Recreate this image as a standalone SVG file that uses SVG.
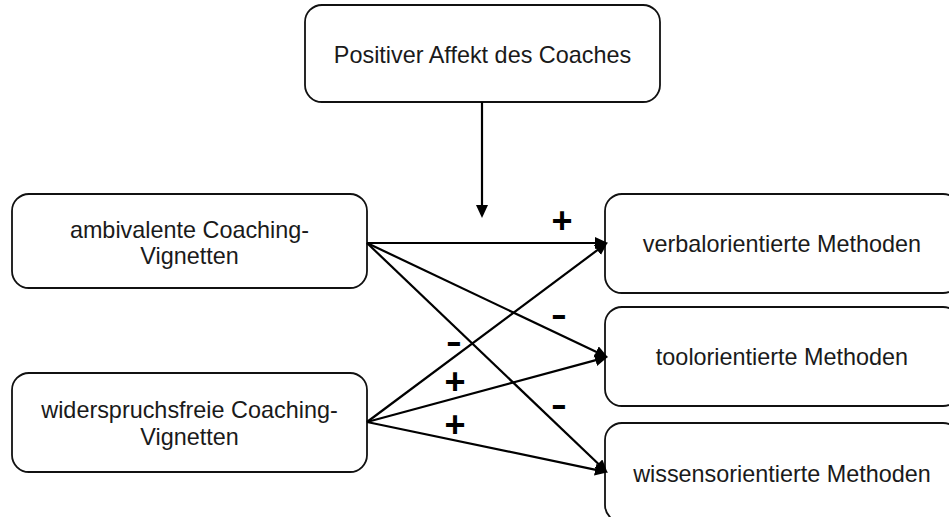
<svg xmlns="http://www.w3.org/2000/svg" width="949" height="517" viewBox="0 0 949 517">
  <defs>
    <style>
      .box { fill: #ffffff; stroke: #111111; stroke-width: 1.8; }
      .label { font-family: "Liberation Sans", Arial, sans-serif; font-size: 23.4px; fill: #1a1a1a; text-anchor: middle; }
      .edge { stroke: #000000; stroke-width: 2.2; fill: none; marker-end: url(#head); }
      .plus { font-family: "Liberation Sans", Arial, sans-serif; font-weight: bold; font-size: 36px; fill: #000000; text-anchor: middle; }
      .minus { font-family: "Liberation Sans", Arial, sans-serif; font-weight: bold; font-size: 34px; fill: #000000; text-anchor: middle; }
    </style>
    <!-- filled triangular head; line stops 4px short of the tip -->
    <marker id="head" markerUnits="userSpaceOnUse" markerWidth="13" markerHeight="13" refX="8" refY="6" orient="auto">
      <path d="M0,0 L13,6 L0,12 z" fill="#000000"/>
    </marker>
  </defs>

  <rect width="949" height="517" fill="#ffffff"/>

  <!-- moderator -->
  <g id="node-affekt">
    <rect class="box" x="305" y="5" width="355" height="97" rx="17" ry="17"/>
    <text class="label" x="482.5" y="63">Positiver Affekt des Coaches</text>
  </g>

  <!-- predictors -->
  <g id="node-ambivalent">
    <rect class="box" x="12" y="194" width="355" height="94" rx="17" ry="17"/>
    <text class="label" x="189.5" y="238">ambivalente Coaching-</text>
    <text class="label" x="189.5" y="264">Vignetten</text>
  </g>
  <g id="node-widerspruchsfrei">
    <rect class="box" x="12" y="373" width="355" height="99" rx="17" ry="17"/>
    <text class="label" x="189.5" y="418">widerspruchsfreie Coaching-</text>
    <text class="label" x="189.5" y="445">Vignetten</text>
  </g>

  <!-- outcomes -->
  <g id="node-verbal">
    <rect class="box" x="605" y="194" width="355" height="99" rx="17" ry="17"/>
    <text class="label" x="782" y="252">verbalorientierte Methoden</text>
  </g>
  <g id="node-tool">
    <rect class="box" x="605" y="307" width="355" height="99" rx="17" ry="17"/>
    <text class="label" x="782" y="365">toolorientierte Methoden</text>
  </g>
  <g id="node-wissen">
    <rect class="box" x="605" y="423" width="355" height="99" rx="17" ry="17"/>
    <text class="label" x="782" y="482">wissensorientierte Methoden</text>
  </g>

  <!-- connectors -->
  <g id="connectors">
    <line class="edge" x1="482" y1="102" x2="482" y2="213"/>
    <line class="edge" x1="367" y1="243" x2="603" y2="243"/>
    <line class="edge" x1="367" y1="243" x2="603.4" y2="355.2"/>
    <line class="edge" x1="367" y1="243" x2="604" y2="469.3"/>
    <line class="edge" x1="367" y1="422" x2="603.7" y2="245.4"/>
    <line class="edge" x1="367" y1="422" x2="603.2" y2="358.1"/>
    <line class="edge" x1="367" y1="422" x2="603.1" y2="471.3"/>
  </g>

  <!-- effect signs; minus glyphs widened horizontally -->
  <g id="signs">
    <text class="plus" x="562" y="233">+</text>
    <text class="minus" transform="translate(559 326) scale(1.4 1)">-</text>
    <text class="minus" transform="translate(454 353.3) scale(1.4 1)">-</text>
    <text class="plus" x="455" y="393.5">+</text>
    <text class="plus" x="455" y="436.5">+</text>
    <text class="minus" transform="translate(559 416) scale(1.4 1)">-</text>
  </g>
</svg>
